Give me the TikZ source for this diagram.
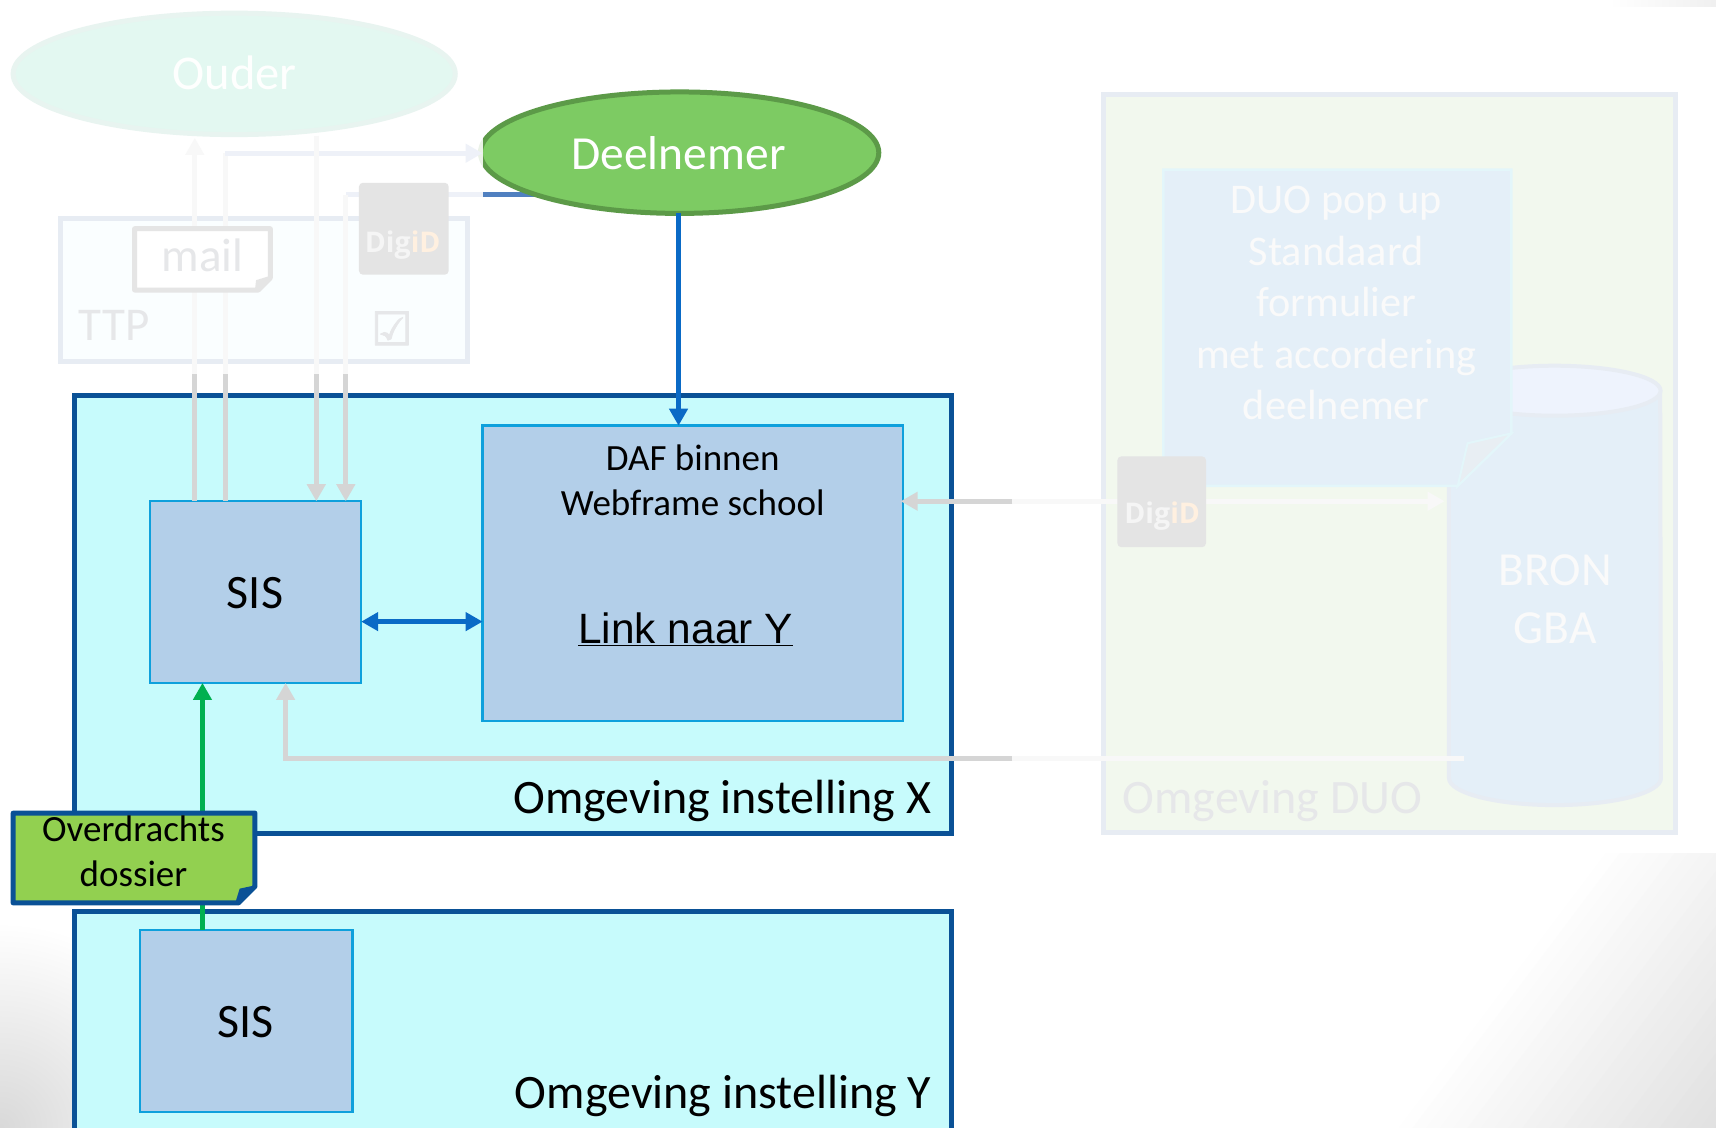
\documentclass[tikz,border=0pt]{standalone}
\usepackage{fontspec}
\setmainfont{Carlito}
\newfontfamily\arialf{Liberation Sans}
\newfontfamily\dejav[FakeBold=2]{DejaVu Sans}
\newfontfamily\digif{Open Sans}
\usetikzlibrary{shapes.geometric,arrows.meta,calc}
\definecolor{envblue}{HTML}{0A5196}
\definecolor{envfill}{HTML}{C7FBFC}
\definecolor{sisfill}{HTML}{B3CFE9}
\definecolor{sisline}{HTML}{0EA0DC}
\definecolor{flowblue}{HTML}{0A6AC6}
\definecolor{flowgreen}{HTML}{00B050}
\definecolor{greyline}{HTML}{D5D5D5}
\definecolor{paleline}{HTML}{F8F8F8}
\definecolor{paleblue}{HTML}{EEF1F8}
\definecolor{midblue}{HTML}{5080C0}
\definecolor{paleborder}{HTML}{E7ECF3}
\definecolor{paletext}{HTML}{E6E7E9}
\definecolor{duofill}{HTML}{F2F8EE}
\definecolor{popfill}{HTML}{E4EFF8}
\definecolor{digigrey}{HTML}{E4E4E4}
\definecolor{cyltop}{HTML}{EEF3FD}
\definecolor{popline}{HTML}{E3F6FA}
\definecolor{foldc}{HTML}{E8EEF3}
\definecolor{ttpfill}{HTML}{FAFEFF}
\definecolor{ouderline}{HTML}{E8F4F0}
\definecolor{ouderfill}{HTML}{E3F8F1}
\definecolor{deelline}{HTML}{5C9A48}
\definecolor{deelfill}{HTML}{7DCB63}
\definecolor{mailc}{HTML}{E5E5E5}
\definecolor{dosfill}{HTML}{92D050}
\newcommand{\fs}[1]{\fontsize{#1pt}{#1pt}\selectfont}
\newcommand{\digi}{\digif\bfseries\fs{28.5}{\color{white!96!black}Dig}{\color{orange!12!white}iD}}
% \bx{name}{style}{x1}{y1}{x2}{y2}{text}
\newcommand{\bx}[7]{%
  \pgfmathsetmacro\bxw{(#5-#3)*1.0944}%
  \pgfmathsetmacro\bxh{(#6-#4)*1.0944}%
  \node[#2,inner sep=0pt,outer sep=0pt,minimum width=\bxw pt,minimum height=\bxh pt] (#1) at ({(#3+#5)/2},{(#4+#6)/2}) {#7};}
\tikzset{
  envbox/.style={draw=envblue,fill=envfill,line width=5pt,rectangle},
  sisbox/.style={draw=sisline,fill=sisfill,line width=2.5pt,rectangle},
  digibox/.style={fill=digigrey,rectangle,rounded corners=4pt},
  lbl/.style={anchor=base,inner sep=0pt,outer sep=0pt},
  conn/.style={line width=5pt},
  tip/.style={-{Triangle[length=17pt,width=18pt]}},
  bothtip/.style={{Triangle[length=17pt,width=18pt]}-{Triangle[length=17pt,width=18pt]}},
}
\begin{document}
\begin{tikzpicture}[x=1.0944pt,y=-1.0944pt]
\useasboundingbox (0,0) rectangle (1568,1030);
\fill[white] (0,0) rectangle (1568,1030);
% background gradients
\begin{scope}
  \clip (1000,780) rectangle (1568,1030);
  \begin{scope}[shift={(1279,1030)},rotate=-37]
    \foreach \i in {1,...,24} {
      \pgfmathsetmacro\pct{\i*0.5}
      \fill[black!\pct] ({(\i-1)*10},-700) rectangle (400,700);
    }
  \end{scope}
\end{scope}
\begin{scope}
  \clip (0,835) rectangle (70,1030);
  \shade[inner color=black!15,outer color=white] (0,1030) circle[radius=205pt];
\end{scope}
\begin{scope}
  \clip (1400,0) rectangle (1568,6);
  \shade[left color=white,right color=black!6] (1470,0) rectangle (1568,6);
\end{scope}

% faded environment DUO
\bx{duo}{draw=paleborder,fill=duofill,line width=5pt,rectangle}{1008}{86}{1531}{761}{}
\fill[popfill] (1324,357) -- (1324,711) arc[x radius=106pt,y radius=27pt,start angle=180,end angle=360] -- (1517,357) -- cycle;
\draw[paleborder,line width=4pt] (1324,357) -- (1324,711) arc[x radius=106pt,y radius=27pt,start angle=180,end angle=360] -- (1517,357);
\draw[paleborder,fill=cyltop,line width=4pt] (1420.5,357) ellipse[x radius=106pt,y radius=25pt];
\node[lbl,text=white!98!black] at (1421,535) {\fs{47.5}BRON};
\node[lbl,text=white!98!black] at (1421,588) {\fs{47.5}GBA};
\node[lbl,anchor=base west,text=paletext] (duolabel) at (1026,743) {\fs{48}Omgeving DUO};

% popup
\fill[popfill,draw=popline,line width=2.5pt] (1063,155) -- (1381,155) -- (1381,396) -- (1332,444) -- (1063,444) -- cycle;
\fill[foldc,draw=popline,line width=2pt] (1381,396) -- (1341,405) -- (1332,444) -- cycle;
\node[align=center,anchor=center,inner sep=0pt,text=white!98!black,font=\fontsize{42.3pt}{51.4pt}\selectfont] (pop) at (1221,277) {DUO pop up\\Standaard\\formulier\\met accordering\\deelnemer};

% faded TTP
\bx{ttp}{draw=paleborder,fill=ttpfill,line width=5pt,rectangle}{55}{200}{427}{330}{}
\node[lbl,anchor=base west,text=paletext] (ttplabel) at (72,311) {\fs{47}TTP};
\node[inner sep=0pt,text=paletext] (check) at (358,300) {\dejav\fs{46}☑};

% faded actor
\bx{ouder}{ellipse,draw=ouderline,fill=ouderfill,line width=5pt}{12}{12}{416}{123}{}
\node[lbl,text=white!96!ouderfill] at (214.5,82) {\fs{48.5}Ouder};

% environment X
\bx{envx}{envbox}{68}{361}{869}{762}{}
\node[lbl,anchor=base east] (xlabel) at (851,743) {\fs{48}Omgeving instelling X};
\bx{sis}{sisbox}{137}{458}{330}{624}{}
\node[lbl] at (233,556) {\fs{48}SIS};
\bx{daf}{sisbox}{441}{389}{825}{659}{}
\node[align=center,inner sep=0pt,font=\fontsize{37pt}{45pt}\selectfont] (daftext) at (633,439) {DAF binnen\\Webframe school};
\node[lbl] (link) at (626.5,588) {\arialf\fs{42.4}\underline{Link naar Y}};

% environment Y
\bx{envy}{envbox}{68}{833}{869}{1060}{}
\node[lbl,anchor=base east] (ylabel) at (851,1013) {\fs{48}Omgeving instelling Y};
\bx{sisy}{sisbox}{128}{850}{322}{1016}{}
\node[lbl] at (224.5,948) {\fs{48}SIS};

% connector anchors
\coordinate (fa) at (178,342);
\coordinate (fb) at (206,342);
\coordinate (fc) at (289,342);
\coordinate (fd) at (316,342);
\coordinate (ftop) at (206,140);
\coordinate (fcorner) at (316,178);
\coordinate (fr) at (925,458);
\coordinate (fbot) at (925,693);
\coordinate (brn) at (1338,693);
\coordinate (cyl) at (1320,458);
\coordinate (ue) at (261,693);
\coordinate (oa) at (178,126);
\coordinate (oc) at (289,124);
\coordinate (dn) at (441,140);
\coordinate (dl) at (441,178);
\coordinate (de) at (500,178);
\coordinate (dafin) at (823,458);

% Deelnemer
\draw[midblue,line width=5pt] (de) -- (dl);
\bx{deel}{ellipse,draw=deelline,fill=deelfill,line width=5pt}{439}{84}{803}{195}{}
\node[lbl,text=white] at (620,155) {\fs{47.5}Deelnemer};
\fill[white,opacity=.88] (430,125) rectangle (441,155);

% faded connectors
\draw[conn,paleline,tip] (fa) -- (oa);
\draw[conn,paleline] (fb) -- (ftop);
\draw[conn,paleblue,tip] (ftop) -- (dn);
\draw[conn,paleline] (oc) -- (fc);
\draw[conn,paleblue] (dl) -- (fcorner);
\draw[conn,paleline] (fcorner) -- (fd);
\draw[conn,paleline,tip] (fr) -- (cyl);
\draw[conn,paleline] (fbot) -- (brn);

% mail
\draw[draw=mailc,fill=white,line width=5pt,line join=round] (123,209) -- (247,209) -- (247,254) -- (236,265) -- (123,265) -- cycle;
\fill[mailc] (247,252) -- (236,265) -- (233,265) -- (234,256) -- cycle;
\node[lbl,text=paletext] (mail) at (185,248) {\fs{47}mail};

% DigiD logos
\bx{digitop}{digibox}{328}{167}{410}{251}{}
\node[inner sep=0pt] at (368,224) {\digi};
\bx{digiduo}{digibox}{1021}{417}{1102}{500}{}
\node[inner sep=0pt] at (1062,472) {\digi};

% solid connectors
\draw[conn,greyline] (sis.north -| fa) -- (fa);
\draw[conn,greyline] (sis.north -| fb) -- (fb);
\draw[conn,greyline,tip] (fc) -- (sis.north -| fc);
\draw[conn,greyline,tip] (fd) -- (sis.north -| fd);
\draw[conn,greyline,tip] (fr) -- (dafin);
\draw[conn,greyline,tip] (fbot) -- (ue) -- (ue |- sis.south);
\draw[conn,flowblue,bothtip] (sis.east |- 0,568) -- (daf.west |- 0,568);
\draw[conn,flowblue,tip] (deel.south -| 620,0) -- (daf.north -| 620,0);
\draw[conn,flowgreen,tip] (sisy.north -| 185,0) -- (sis.south -| 185,0);

% dossier
\draw[draw=envblue,fill=dosfill,line width=5pt,line join=round] (12,743) -- (233,743) -- (233,810) -- (218,825) -- (12,825) -- cycle;
\fill[envblue] (233,809) -- (219,825) -- (215,825) -- (219,812) -- cycle;
\node[align=center,inner sep=0pt,font=\fontsize{37pt}{44.5pt}\selectfont] (dossier) at (122,778) {Overdrachts\\dossier};
\end{tikzpicture}
\end{document}
